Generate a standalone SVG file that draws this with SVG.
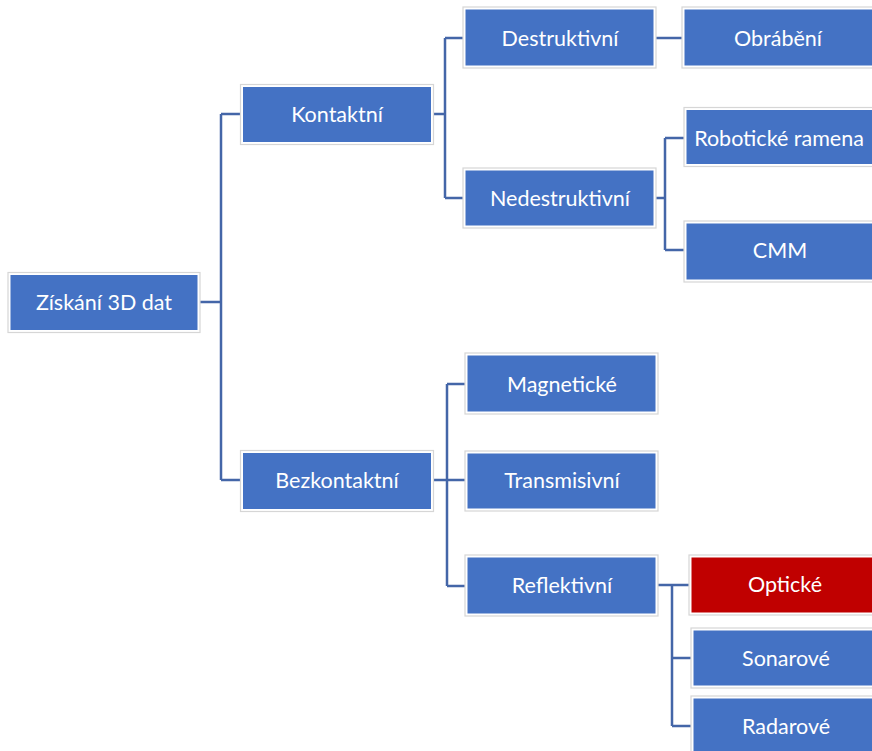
<svg xmlns="http://www.w3.org/2000/svg" width="872" height="751" viewBox="0 0 872 751">
<style>
.fr{fill:#fff;stroke:#d6d6d6;stroke-width:1.2}
.b{fill:#4472C4}
.r{fill:#C00000}
.t{font-family:Lato,"Noto Sans",sans-serif;font-size:21.5px;fill:#fff;text-anchor:middle}
.c{fill:none;stroke:#4466A8;stroke-width:2.5}
</style>
<rect width="872" height="751" fill="#fff"/>
<g id="connectors">
<path class="c" d="M200,302 H221 M221,114 V480 M221,114 H241 M221,480 H241"/>
<path class="c" d="M433,114 H445 M445,38 V198 M445,38 H464 M445,198 H464"/>
<path class="c" d="M656,38 H684"/>
<path class="c" d="M656,198 H665 M665,138 V250 M665,138 H685 M665,250 H685"/>
<path class="c" d="M433,480 H466 M447,384 V586 M447,384 H466 M447,586 H466"/>
<path class="c" d="M658,585 H690 M672,585 V726 M672,658 H691 M672,726 H691"/>
</g>
<g id="n-root"><rect class="fr" x="8" y="272.5" width="192" height="60"/><rect class="b" x="10.5" y="275" width="187" height="55"/><text class="t" x="104" y="310">Získání 3D dat</text></g>
<g id="n-kontaktni"><rect class="fr" x="240.5" y="84.5" width="193" height="60"/><rect class="b" x="243" y="87" width="188" height="55"/><text class="t" x="337" y="122">Kontaktní</text></g>
<g id="n-bezkontaktni"><rect class="fr" x="240.5" y="450.5" width="193" height="61"/><rect class="b" x="243" y="453" width="188" height="56"/><text class="t" x="337" y="488">Bezkontaktní</text></g>
<g id="n-destruktivni"><rect class="fr" x="463" y="7" width="193" height="61"/><rect class="b" x="465.5" y="9.5" width="188" height="56"/><text class="t" x="560" y="46">Destruktivní</text></g>
<g id="n-nedestruktivni"><rect class="fr" x="463" y="168" width="193" height="60"/><rect class="b" x="465.5" y="170.5" width="188" height="55"/><text class="t" x="560" y="206">Nedestruktivní</text></g>
<g id="n-obrabeni"><rect class="fr" x="682" y="7" width="195" height="61"/><rect class="b" x="684.5" y="9.5" width="192" height="56"/><text class="t" x="778" y="46">Obrábění</text></g>
<g id="n-roboticke"><rect class="fr" x="684" y="107.5" width="193" height="59"/><rect class="b" x="686.5" y="110" width="190" height="54"/><text class="t" x="779" y="146">Robotické ramena</text></g>
<g id="n-cmm"><rect class="fr" x="684" y="221" width="193" height="61"/><rect class="b" x="686.5" y="223.5" width="190" height="56"/><text class="t" x="780" y="258">CMM</text></g>
<g id="n-magneticke"><rect class="fr" x="465" y="353" width="193" height="61"/><rect class="b" x="467.5" y="355.5" width="188" height="56"/><text class="t" x="562" y="392">Magnetické</text></g>
<g id="n-transmisivni"><rect class="fr" x="465" y="451" width="193" height="60"/><rect class="b" x="467.5" y="453.5" width="188" height="55"/><text class="t" x="562" y="488">Transmisivní</text></g>
<g id="n-reflektivni"><rect class="fr" x="465" y="555" width="193" height="61"/><rect class="b" x="467.5" y="557.5" width="188" height="56"/><text class="t" x="562" y="593">Reflektivní</text></g>
<g id="n-opticke"><rect class="fr" x="689" y="555" width="190" height="60"/><rect class="r" x="691.5" y="557.5" width="187" height="55"/><text class="t" x="785" y="592">Optické</text></g>
<g id="n-sonarove"><rect class="fr" x="691" y="628" width="190" height="60"/><rect class="b" x="693.5" y="630.5" width="187" height="55"/><text class="t" x="786" y="666">Sonarové</text></g>
<g id="n-radarove"><rect class="fr" x="691" y="696" width="190" height="60"/><rect class="b" x="693.5" y="698.5" width="187" height="60"/><text class="t" x="786" y="734">Radarové</text></g>
</svg>
